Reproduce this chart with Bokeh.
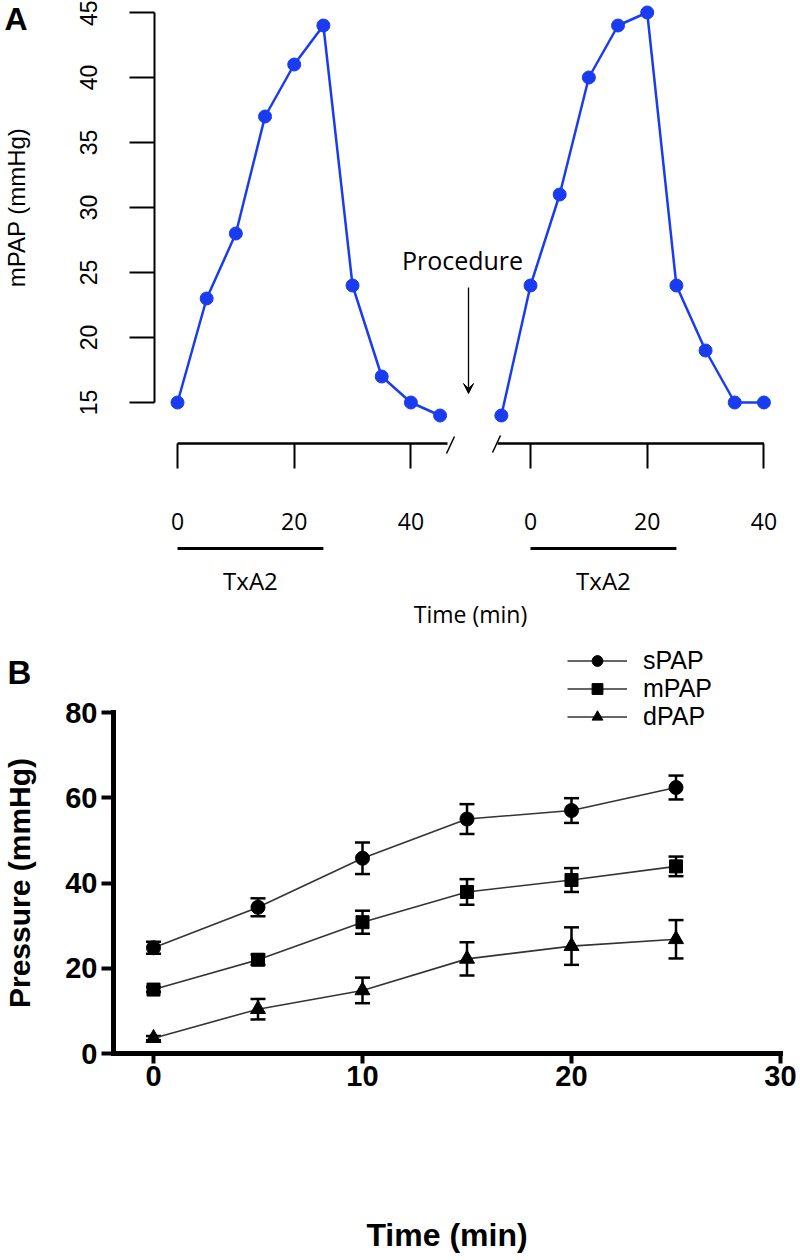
from bokeh.plotting import figure
from bokeh.models import (LinearAxis, FixedTicker, Range1d, Label, Arrow, VeeHead,
                          ColumnDataSource, Whisker, TeeHead, Legend, LegendItem,
                          CustomJSTickFormatter)
from bokeh.layouts import column
from bokeh.embed import file_html
from bokeh.resources import INLINE

# ---------------- data ----------------
# Panel A: mPAP during two TxA2 challenges (time in min, relative to each challenge)
left_time = [0, 5, 10, 15, 20, 25, 30, 35, 40, 45]
left_mpap = [15, 23, 28, 37, 41, 44, 24, 17, 15, 14]
right_time = [-5, 0, 5, 10, 15, 20, 25, 30, 35, 40]
right_mpap = [14, 24, 31, 40, 44, 45, 24, 19, 15, 15]
txa2_start, txa2_end = 0, 25
a_y_ticks = [15, 20, 25, 30, 35, 40, 45]
a_x_ticks = [0, 20, 40]

# Panel B: pressures (mean +/- error)
b_time = [0, 5, 10, 15, 20, 25]
spap = [24.8, 34.3, 45.8, 55.0, 57.0, 62.4]
spap_err = [1.4, 2.1, 3.7, 3.5, 2.9, 2.8]
mpap = [15.0, 22.0, 30.8, 37.9, 40.7, 43.9]
mpap_err = [0.6, 1.2, 2.7, 3.0, 2.8, 2.3]
dpap = [3.6, 10.4, 14.8, 22.2, 25.2, 26.8]
dpap_err = [0.5, 2.4, 3.0, 3.9, 4.4, 4.5]
b_x_ticks = [0, 10, 20, 30]
b_y_ticks = [0, 20, 40, 60, 80]

# ---------------- layout constants ----------------
W = 800
HA = 640
HB = 618
BLUE = "#1a3cf0"
SANS = "Liberation Sans"
MYR = "Open Sans"

# panel A pixel geometry
A_X0 = 177.0
A_PXM = 5.835
A_OFF = 60.5          # gap between the two time axes (layout)
A_Y15 = 402.0
A_PXU = 13.0


def ax(px):
    return (px - A_X0) / A_PXM


def ay(py):
    return 15 + (A_Y15 - py) / A_PXU


pA = figure(width=W, height=HA, output_backend="svg", toolbar_location=None,
            x_range=Range1d(ax(0), ax(W)), y_range=Range1d(ay(HA), ay(0)),
            min_border=0, x_axis_location=None, y_axis_location=None)
pA.grid.visible = False
pA.outline_line_color = None
pA.background_fill_color = None

yA = LinearAxis(bounds=(15, 45), ticker=FixedTicker(ticks=a_y_ticks),
                axis_label="mPAP (mmHg)", fixed_location=ax(154))
yA.axis_line_width = 2
yA.major_tick_line_width = 2
yA.major_tick_out = 25
yA.major_tick_in = 0
yA.minor_tick_line_color = None
yA.major_label_orientation = "vertical"
yA.major_label_standoff = 33
yA.major_label_text_font = SANS
yA.major_label_text_font_size = "23px"
yA.major_label_text_color = "black"
yA.axis_label_text_font = SANS
yA.axis_label_text_font_size = "24px"
yA.axis_label_text_font_style = "normal"
yA.axis_label_text_color = "black"
yA.axis_label_standoff = 47
pA.add_layout(yA, "left")

xA_ticks = a_x_ticks + [t + A_OFF for t in a_x_ticks]
xA = LinearAxis(ticker=FixedTicker(ticks=xA_ticks), axis_label="Time (min)",
                bounds=(ax(150), ax(790)), fixed_location=ay(443),
                formatter=CustomJSTickFormatter(
                    code="return (tick > 50 ? tick - %s : tick).toFixed(0)" % A_OFF))
xA.axis_line_color = None
xA.major_tick_line_width = 2
xA.major_tick_out = 25
xA.major_tick_in = 0
xA.minor_tick_line_color = None
xA.major_label_standoff = 44
xA.major_label_text_font = MYR
xA.major_label_text_font_size = "23px"
xA.major_label_text_color = "black"
xA.axis_label_text_font = MYR
xA.axis_label_text_font_size = "23px"
xA.axis_label_text_font_style = "normal"
xA.axis_label_text_color = "black"
xA.axis_label_standoff = 65
pA.add_layout(xA, "below")

# broken axis line and break marks
for xs, xe in [(0, ax(447)), (ax(497), a_x_ticks[-1] + A_OFF)]:
    pA.add_layout(Arrow(x_start=xs, y_start=ay(443), x_end=xe, y_end=ay(443),
                        start=None, end=None, line_width=2.5, line_color="black"))
for (x0, y0, x1, y1) in [(446, 453, 454, 436), (492, 452, 500, 435)]:
    pA.add_layout(Arrow(x_start=ax(x0), y_start=ay(y0), x_end=ax(x1), y_end=ay(y1),
                        start=None, end=None, line_width=1.5, line_color="black"))

# TxA2 bars & labels
for off in (0, A_OFF):
    pA.add_layout(Arrow(x_start=txa2_start + off, y_start=ay(548),
                        x_end=txa2_end + off, y_end=ay(548),
                        start=None, end=None, line_width=3, line_color="black"))
    pA.add_layout(Label(x=(txa2_start + txa2_end) / 2 + off, y=ay(580), text="TxA2",
                        text_align="center", text_baseline="middle",
                        text_font=MYR, text_font_size="24px", text_color="black"))

# data
pA.line(left_time, left_mpap, line_color=BLUE, line_width=2.5)
pA.scatter(left_time, left_mpap, size=13, marker="circle", fill_color=BLUE, line_color=BLUE)
rx = [t + A_OFF for t in right_time]
pA.line(rx, right_mpap, line_color=BLUE, line_width=2.5)
pA.scatter(rx, right_mpap, size=13, marker="circle", fill_color=BLUE, line_color=BLUE)

# procedure annotation
pA.add_layout(Label(x=ax(462), y=ay(259), text="Procedure", text_align="center",
                    text_baseline="middle", text_font=MYR, text_font_size="25px",
                    text_color="black"))
pA.add_layout(Arrow(x_start=ax(468), y_start=ay(287), x_end=ax(468), y_end=ay(393),
                    start=None, line_width=1.3, line_color="black",
                    end=VeeHead(size=10, fill_color="black", line_color="black")))
pA.add_layout(Label(x=ax(4), y=ay(0), text="A", text_align="left",
                    text_baseline="top", text_font=SANS, text_font_size="32px",
                    text_font_style="bold", text_color="black"))

# ---------------- panel B ----------------
B_TOP = 640.0          # page y of panel B's top edge
B_X0 = 153.0
B_PXM = 20.9
B_Y0 = 1053.0
B_PXU = 4.2625


def bx(px):
    return (px - B_X0) / B_PXM


def by(py):
    return (B_Y0 - py) / B_PXU


pB = figure(width=W, height=HB, output_backend="svg", toolbar_location=None,
            x_range=Range1d(bx(0), bx(W)), y_range=Range1d(by(B_TOP + HB), by(B_TOP)),
            min_border=0, x_axis_location=None, y_axis_location=None)
pB.grid.visible = False
pB.outline_line_color = None
pB.background_fill_color = None

yB = LinearAxis(bounds=(0, 80), ticker=FixedTicker(ticks=b_y_ticks),
                axis_label="Pressure (mmHg)", fixed_location=bx(113))
xB = LinearAxis(bounds=(bx(113), 30), ticker=FixedTicker(ticks=b_x_ticks),
                axis_label="Time (min)", fixed_location=0)
for a in (yB, xB):
    a.axis_line_width = 5
    a.axis_line_cap = "square"
    a.major_tick_line_width = 4
    a.major_tick_in = 0
    a.minor_tick_line_color = None
    a.major_label_text_font = SANS
    a.major_label_text_font_style = "bold"
    a.major_label_text_font_size = "29px"
    a.major_label_text_color = "black"
    a.axis_label_text_font = SANS
    a.axis_label_text_font_style = "bold"
    a.axis_label_text_color = "black"
yB.major_tick_out = 12
yB.major_label_standoff = 4
yB.axis_label_text_font_size = "30px"
yB.axis_label_standoff = 26
xB.major_tick_out = 10
xB.major_label_standoff = 2
xB.axis_label_text_font_size = "32px"
xB.axis_label_standoff = 128
pB.add_layout(yB, "left")
pB.add_layout(xB, "below")

LINE = "#333333"
legend_rows_py = [661, 689, 717]   # legend row centres (page px, layout)
LEG_FS = 25
for i, (name, vals, errs, mk, sz) in enumerate([("sPAP", spap, spap_err, "circle", 14),
                                                ("mPAP", mpap, mpap_err, "square", 13),
                                                ("dPAP", dpap, dpap_err, "triangle", 15)]):
    src = ColumnDataSource(dict(x=b_time, y=vals,
                                lo=[v - e for v, e in zip(vals, errs)],
                                hi=[v + e for v, e in zip(vals, errs)]))
    lr = pB.line("x", "y", source=src, line_color=LINE, line_width=1.6)
    pB.add_layout(Whisker(base="x", upper="hi", lower="lo", source=src,
                          line_width=2.5, line_color="black",
                          upper_head=TeeHead(size=15, line_width=2.5, line_color="black"),
                          lower_head=TeeHead(size=15, line_width=2.5, line_color="black")))
    sr = pB.scatter("x", "y", source=src, marker=mk, size=sz,
                    fill_color="black", line_color="black")
    half = LEG_FS * 1.117 / 2
    vy = (B_TOP + HB) - (legend_rows_py[i] + half)
    leg = Legend(items=[LegendItem(label=name, renderers=[lr, sr])],
                 location=(567, vy), padding=0, margin=0, spacing=0,
                 glyph_width=60, glyph_height=27, label_height=26, label_standoff=16,
                 label_text_font=SANS, label_text_font_size="%dpx" % LEG_FS,
                 label_text_color="black", border_line_color=None,
                 background_fill_alpha=0)
    pB.add_layout(leg)

pB.add_layout(Label(x=bx(7), y=by(653), text="B", text_align="left",
                    text_baseline="top", text_font=SANS, text_font_size="33px",
                    text_font_style="bold", text_color="black"))

layout = column(pA, pB, spacing=0)
open("out.html", "w").write(file_html(layout, INLINE))
